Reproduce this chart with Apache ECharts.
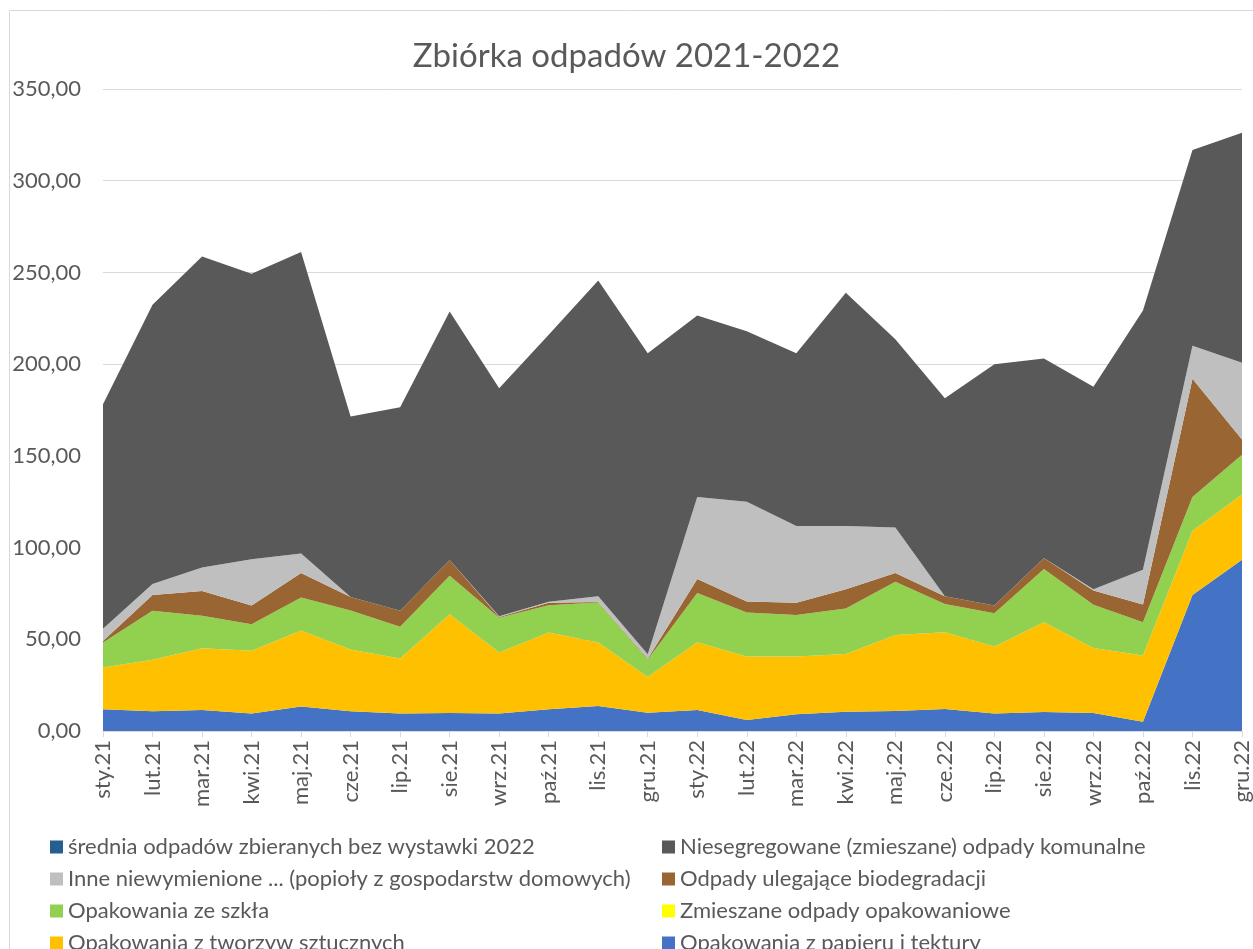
<!DOCTYPE html>
<html>
<head>
<meta charset="utf-8">
<script src="https://cdn.jsdelivr.net/npm/echarts@6/dist/echarts.min.js"></script>
<style>
  html, body { margin: 0; padding: 0; background: #fff; }
  #chart { width: 1253px; height: 949px; }
</style>
</head>
<body>
<div id="chart"></div>
<script>
// months on the x axis
const months = ["sty.21", "lut.21", "mar.21", "kwi.21", "maj.21", "cze.21", "lip.21", "sie.21", "wrz.21", "paź.21", "lis.21", "gru.21",
  "sty.22", "lut.22", "mar.22", "kwi.22", "maj.22", "cze.22", "lip.22", "sie.22", "wrz.22", "paź.22", "lis.22", "gru.22"];

// values (stacked, bottom to top)
const papier = [11.8, 10.7, 11.5, 9.6, 13.3, 10.7, 9.5, 9.8, 9.5, 11.8, 13.6, 10.0, 11.5, 6.0, 9.1, 10.5, 10.9, 12.0, 9.5, 10.4, 9.8, 5.1, 74.2, 93.3];
const tworzywa = [22.8, 28.1, 33.6, 34.2, 41.5, 33.7, 30.0, 53.9, 33.3, 41.9, 34.6, 19.4, 36.9, 34.6, 31.5, 31.5, 41.5, 41.9, 36.5, 48.9, 35.5, 36.0, 35.0, 35.7];
const zmieszaneOpak = [0, 0, 0, 0, 0, 0, 0, 0, 0, 0, 0, 0, 0, 0, 0, 0, 0, 0, 0, 0, 0, 0, 0, 0];
const szklo = [13.6, 26.7, 17.7, 14.4, 18.0, 21.3, 17.4, 20.9, 18.9, 14.9, 21.8, 9.6, 26.8, 24.0, 22.7, 24.8, 28.9, 15.4, 18.2, 29.0, 23.5, 18.2, 18.4, 21.6];
const bio = [0.9, 8.6, 13.5, 10.2, 13.4, 7.4, 8.6, 8.6, 0.5, 1.3, 0.3, 0.4, 7.6, 6.0, 6.6, 10.5, 4.9, 4.2, 4.2, 6.0, 7.8, 9.7, 64.5, 8.3];
const inne = [6.7, 6.0, 12.8, 25.3, 10.6, 0, 0, 0, 0.3, 0.5, 3.2, 2.4, 44.8, 54.4, 41.8, 34.4, 24.8, 0, 0, 0, 0.7, 18.9, 17.9, 41.8];
const niesegregowane = [122.4, 152.3, 169.6, 155.6, 164.3, 98.4, 111.0, 135.5, 124.4, 145.6, 172.1, 164.1, 98.9, 92.9, 94.2, 127.2, 102.6, 107.9, 131.6, 108.8, 110.4, 141.4, 106.8, 125.5];
const srednia = [0, 0, 0, 0, 0, 0, 0, 0, 0, 0, 0, 0, 0, 0, 0, 0, 0, 0, 0, 0, 0, 0, 0, 0];

const FONT = "Lato";
const TXT = "#595959";

const chart = echarts.init(document.getElementById("chart"));

function area(name, data, color) {
  return {
    name: name,
    type: "line",
    stack: "total",
    data: data,
    symbol: "none",
    lineStyle: { width: 0 },
    areaStyle: { color: color, opacity: 1 },
    itemStyle: { color: color },
  };
}

const legendText = { color: TXT, fontFamily: FONT, fontSize: 22, lineHeight: 22 };

chart.setOption({
  animation: false,
  title: {
    text: "Zbiórka odpadów 2021-2022",
    left: "center",
    top: 35,
    textStyle: { color: TXT, fontFamily: FONT, fontSize: 33, fontWeight: "normal" },
  },
  graphic: [
    {
      type: "rect",
      shape: { x: 9.5, y: 10.5, width: 1260, height: 960 },
      style: { fill: "none", stroke: "#D9D9D9", lineWidth: 1 },
      silent: true,
    },
  ],
  legend: [
    {
      orient: "vertical",
      left: 45,
      top: 831,
      height: 160,
      itemWidth: 13,
      itemHeight: 13,
      itemGap: 10,
      icon: "rect",
      textStyle: legendText,
      data: [
        "średnia odpadów zbieranych bez wystawki 2022",
        "Inne niewymienione ... (popioły z gospodarstw domowych)",
        "Opakowania ze szkła",
        "Opakowania z tworzyw sztucznych",
      ],
    },
    {
      orient: "vertical",
      left: 657,
      top: 831,
      height: 160,
      itemWidth: 13,
      itemHeight: 13,
      itemGap: 10,
      icon: "rect",
      textStyle: legendText,
      data: [
        "Niesegregowane (zmieszane) odpady komunalne",
        "Odpady ulegające biodegradacji",
        "Zmieszane odpady opakowaniowe",
        "Opakowania z papieru i tektury",
      ],
    },
  ],
  grid: { left: 103, right: 8, top: 89, bottom: 218 },
  xAxis: {
    type: "category",
    boundaryGap: false,
    data: months,
    axisLine: { lineStyle: { color: "#D9D9D9", width: 1 } },
    axisTick: { show: true, length: 6, lineStyle: { color: "#D9D9D9" } },
    axisLabel: { rotate: 90, margin: 9, color: TXT, fontFamily: FONT, fontSize: 22, interval: 0 },
  },
  yAxis: {
    type: "value",
    min: 0,
    max: 350,
    interval: 50,
    axisLine: { show: false },
    axisTick: { show: false },
    splitLine: { lineStyle: { color: "#D9D9D9", width: 1 } },
    axisLabel: {
      color: TXT,
      fontFamily: FONT,
      fontSize: 22,
      margin: 22,
      formatter: (v) => v.toFixed(2).replace(".", ","),
    },
  },
  series: [
    area("Opakowania z papieru i tektury", papier, "#4472C4"),
    area("Opakowania z tworzyw sztucznych", tworzywa, "#FFC000"),
    area("Zmieszane odpady opakowaniowe", zmieszaneOpak, "#FFFF00"),
    area("Opakowania ze szkła", szklo, "#92D050"),
    area("Odpady ulegające biodegradacji", bio, "#996633"),
    area("Inne niewymienione ... (popioły z gospodarstw domowych)", inne, "#BFBFBF"),
    area("Niesegregowane (zmieszane) odpady komunalne", niesegregowane, "#595959"),
    area("średnia odpadów zbieranych bez wystawki 2022", srednia, "#255E91"),
  ],
});
</script>
</body>
</html>
